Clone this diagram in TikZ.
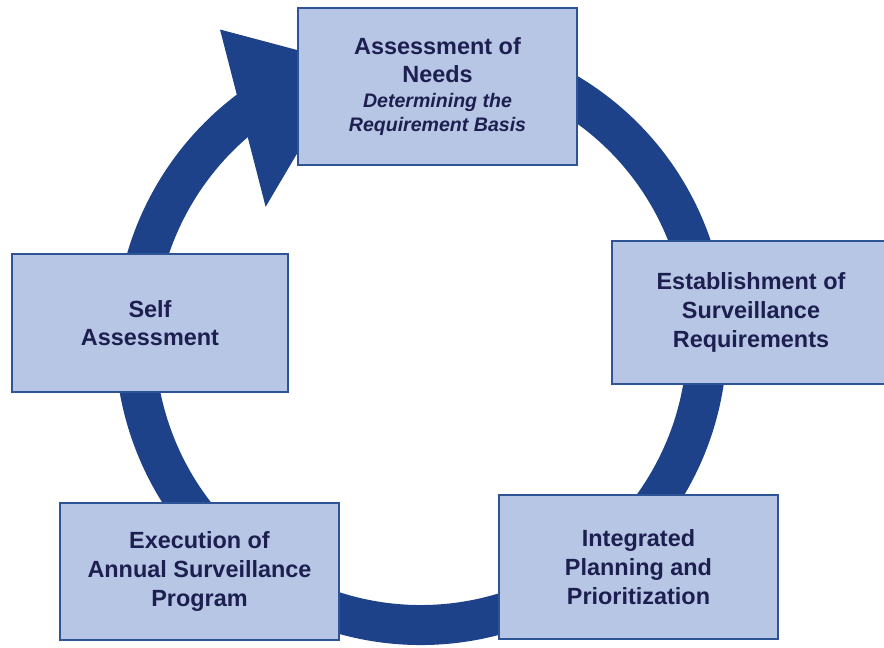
\documentclass[tikz,border=0pt]{standalone}
\usepackage{fontspec}
\setmainfont{Liberation Sans}
\usetikzlibrary{calc}

\definecolor{ringblue}{HTML}{1D4289}
\definecolor{boxfill}{HTML}{B7C6E4}
\definecolor{boxline}{HTML}{2F5496}
\definecolor{textnavy}{HTML}{1C1F4F}

\newcommand{\subline}{\fontsize{16.7}{20.5}\selectfont\itshape}

\begin{document}
\begin{tikzpicture}[x=0.03cm, y=0.03cm,
    stage/.style={draw=boxline, line width=1.3pt, fill=boxfill, rectangle,
        text=textnavy, align=center,
        font=\fontsize{20}{24.5}\selectfont\bfseries},
    ring/.style={draw=ringblue, line width=1.2cm}]
        \useasboundingbox (0,0) rectangle (884,648);
        \coordinate (c) at (421,309);
        % cycle ring and its head
        \draw[ring] ($(c)+(60:286)$) arc[start angle=60, end angle=-240, radius=286];
        \fill[ringblue] ($(c)+(123:369)$) -- ($(c)+(104.5:284)$) -- ($(c)+(139.6:204)$) -- cycle;
        % the five stages
        \node[stage, minimum width=8.37cm, minimum height=4.71cm] (needs) at (437.5,561.5)
            {Assessment of\\ Needs\\[-3.5pt] \subline Determining the\\[-4pt] \subline Requirement Basis};
        \node[stage, minimum width=8.34cm, minimum height=4.29cm] (establish) at (751,335.5)
            {Establishment of\\ Surveillance\\ Requirements};
        \node[stage, minimum width=8.37cm, minimum height=4.32cm] (planning) at (638.5,81)
            {Integrated\\ Planning and\\ Prioritization};
        \node[stage, minimum width=8.37cm, minimum height=4.11cm] (execution) at (199.5,76.5)
            {Execution of\\ Annual Surveillance\\ Program};
        \node[stage, minimum width=8.28cm, minimum height=4.14cm] (selfassess) at (150,325)
            {Self\\ Assessment};
\end{tikzpicture}
\end{document}
